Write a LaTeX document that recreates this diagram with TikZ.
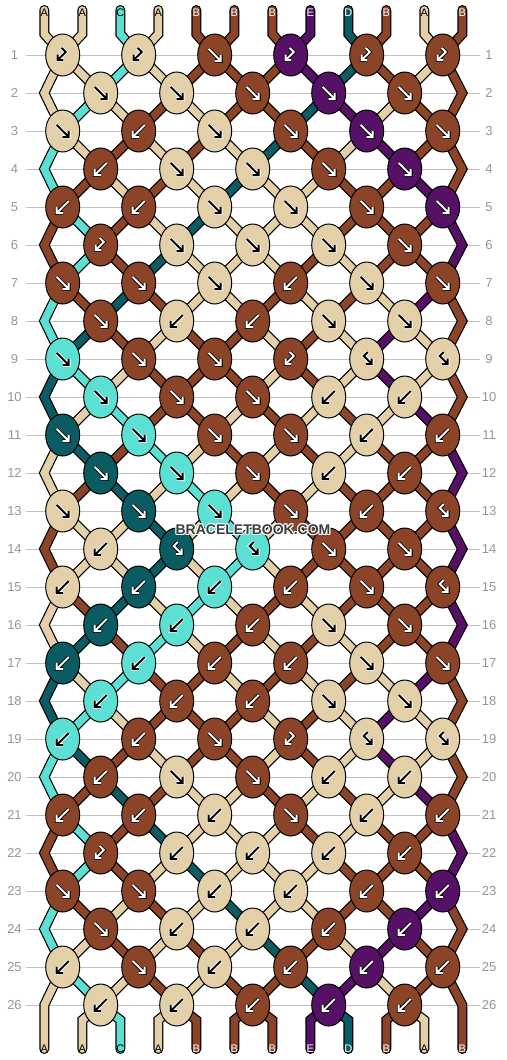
\documentclass[tikz,border=0pt]{standalone}
\usepackage{fontspec}
\setmainfont{Liberation Sans}
\usetikzlibrary{shapes.geometric}
\definecolor{colA}{RGB}{227,207,168}
\definecolor{colB}{RGB}{139,68,39}
\definecolor{colC}{RGB}{93,224,212}
\definecolor{colD}{RGB}{11,91,98}
\definecolor{colE}{RGB}{86,17,103}
\colorlet{fgA}{black}\colorlet{fgC}{black}
\colorlet{fgB}{white}\colorlet{fgD}{white}\colorlet{fgE}{white}
\colorlet{hlA}{white}\colorlet{hlC}{white}
\colorlet{hlB}{black}\colorlet{hlD}{black}\colorlet{hlE}{black}
\definecolor{rownum}{RGB}{150,150,150}
\definecolor{rowline}{RGB}{192,192,192}
\definecolor{wmark}{RGB}{60,60,60}

\def\stdef#1#2{\expandafter\def\csname st#1\endcsname{#2}}
\def\kndef#1#2{\expandafter\def\csname kn#1\endcsname{#2}}

\stdef{0}{A,A,C,A,B,B,B,E,D,B,A,B}
\stdef{1}{A,A,C,A,B,B,B,E,D,B,A,B}
\stdef{2}{A,C,A,B,A,B,B,D,E,A,B,B}
\stdef{3}{C,A,B,A,B,A,D,B,A,E,B,B}
\stdef{4}{C,B,A,B,A,D,A,A,B,B,E,B}
\stdef{5}{B,C,B,A,D,A,A,A,B,B,B,E}
\stdef{6}{B,C,B,D,A,A,A,B,A,B,B,E}
\stdef{7}{C,B,D,B,A,A,B,A,B,A,E,B}
\stdef{8}{C,D,B,A,B,B,A,B,A,E,A,B}
\stdef{9}{D,C,A,B,B,B,A,B,A,E,A,B}
\stdef{10}{D,A,C,B,B,A,B,A,B,A,E,B}
\stdef{11}{A,D,B,C,A,B,A,B,A,B,B,E}
\stdef{12}{A,B,D,A,C,A,B,A,B,B,B,E}
\stdef{13}{B,A,A,D,A,C,A,B,B,B,B,E}
\stdef{14}{B,A,A,D,A,C,A,B,B,B,B,E}
\stdef{15}{A,B,D,A,C,A,B,A,B,B,B,E}
\stdef{16}{A,D,B,C,A,B,A,B,A,B,B,E}
\stdef{17}{D,A,C,B,B,A,B,A,B,A,E,B}
\stdef{18}{D,C,A,B,B,B,A,B,A,E,A,B}
\stdef{19}{C,D,B,A,B,B,A,B,A,E,A,B}
\stdef{20}{C,B,D,B,A,A,B,A,B,A,E,B}
\stdef{21}{B,C,B,D,A,A,A,B,A,B,B,E}
\stdef{22}{B,C,B,A,D,A,A,A,B,B,B,E}
\stdef{23}{C,B,A,B,A,D,A,A,B,B,E,B}
\stdef{24}{C,A,B,A,B,A,D,B,A,E,B,B}
\stdef{25}{A,C,A,B,A,B,B,D,E,A,B,B}
\stdef{26}{A,A,C,A,B,B,B,E,D,B,A,B}

\kndef{1}{BF/A,BF/A,F/B,BF/E,BF/B,BF/B}
\kndef{2}{F/A,F/A,F/B,F/E,F/B}
\kndef{3}{F/A,B/B,F/A,F/B,F/E,F/B}
\kndef{4}{B/B,F/A,F/A,F/B,F/E}
\kndef{5}{B/B,B/B,F/A,F/A,F/B,F/E}
\kndef{6}{BF/B,F/A,F/A,F/A,F/B}
\kndef{7}{F/B,F/B,F/A,B/B,F/A,F/B}
\kndef{8}{F/B,B/A,B/B,F/A,F/A}
\kndef{9}{F/C,F/B,F/B,BF/B,FB/A,FB/A}
\kndef{10}{F/C,F/B,F/B,B/A,B/A}
\kndef{11}{F/D,F/C,F/B,F/B,B/A,B/B}
\kndef{12}{F/D,F/C,F/B,B/A,B/B}
\kndef{13}{F/A,F/D,F/C,F/B,B/B,FB/B}
\kndef{14}{B/A,FB/D,FB/C,F/B,F/B}
\kndef{15}{B/A,B/D,B/C,B/B,F/B,FB/B}
\kndef{16}{B/D,B/C,B/B,F/A,F/B}
\kndef{17}{B/D,B/C,B/B,B/B,F/A,F/B}
\kndef{18}{B/C,B/B,B/B,F/A,F/A}
\kndef{19}{B/C,B/B,F/B,BF/B,FB/A,FB/A}
\kndef{20}{B/B,F/A,F/B,B/A,B/A}
\kndef{21}{B/B,B/B,B/A,F/B,B/A,B/B}
\kndef{22}{BF/B,B/A,B/A,B/A,B/B}
\kndef{23}{F/B,F/B,B/A,B/A,B/B,B/E}
\kndef{24}{F/B,B/A,B/A,B/B,B/E}
\kndef{25}{B/A,F/B,B/A,B/B,B/E,B/B}
\kndef{26}{B/A,B/A,B/B,B/E,B/B}

\def\glF{(-6,-6)--(6,6) (6,-0.2)--(6,6)--(-0.2,6)}
\def\glB{(6,-6)--(-6,6) (-6,-0.2)--(-6,6)--(0.2,6)}
\def\glBF{(-1,-7)--(3,-3)--(-5,5) (-5,-0.5)--(-5,5)--(0.5,5)}
\def\glFB{(1,-7)--(-3,-3)--(5,5) (5,-0.5)--(5,5)--(-0.5,5)}

\tikzset{
  strand/.style={draw=black, line width=1.2pt, double distance=7.6pt, line join=miter},
  knot/.style={ellipse, draw=black, line width=1pt, minimum width=34pt, minimum height=42pt, inner sep=0pt},
  glyphhalo/.style={line width=3.6pt, line join=miter, line cap=butt},
  glyphline/.style={line width=2pt, line join=miter, line cap=butt},
  rownumber/.style={text=rownum, inner sep=0pt, font=\fontsize{13}{13}\selectfont},
  guide/.style={draw=rowline, line width=0.9pt},
  strandlabel/.style={inner sep=0pt, font=\fontsize{11}{11}\selectfont},
  wm/.style={inner sep=0pt, font=\fontsize{14}{14}\selectfont\bfseries}
}

\begin{document}
\begin{tikzpicture}[x=1pt,y=-1pt]
\useasboundingbox (0,0) rectangle (506,1060);
\fill[white] (0,0) rectangle (506,1060);

% row guides and numbers
\foreach \r in {1,...,26} {
  \pgfmathsetmacro\yy{55+38*(\r-1)}
  \node[rownumber] (rl-\r) at (14.5,\yy) {\r};
  \node[rownumber] (rr-\r) at (489,\yy) {\r};
  \coordinate (gl-\r) at (26,\yy);
  \coordinate (gr-\r) at (480,\yy);
  \draw[guide] (gl-\r) -- (gr-\r);
}

% coordinates
\foreach \i in {0,...,11} {
  \pgfmathsetmacro\xx{44.3+38*\i}
  \coordinate (top-\i) at (\xx,10);
  \coordinate (p-0-\i) at (\xx,34);
  \coordinate (p-27-\i) at (\xx,1020);
  \coordinate (bot-\i) at (\xx,1049);
}
\foreach \r in {1,...,26} {
  \pgfmathsetmacro\yy{55+38*(\r-1)}
  \pgfmathtruncatemacro\rodd{mod(\r,2)}
  \foreach \i in {0,...,11} {
    \ifnum\rodd=1
      \pgfmathtruncatemacro\kl{\i-mod(\i,2)}
      \pgfmathsetmacro\xx{62.7+38*\kl}
    \else
      \pgfmathsetmacro\xx{44.3+38*\i}
      \ifnum\i>0 \ifnum\i<11
        \pgfmathtruncatemacro\kl{\i-1+mod(\i,2)}
        \pgfmathsetmacro\xx{62.7+38*\kl}
      \fi\fi
    \fi
    \coordinate (p-\r-\i) at (\xx,\yy);
  }
}

% strands
\foreach \r in {0,...,26} {
  \pgfmathtruncatemacro\nxa{\r+1}
  \pgfmathtruncatemacro\nxb{\r+2}
  \pgfmathtruncatemacro\rodd{mod(\r,2)}
  \edef\lst{\csname st\r\endcsname}
  \foreach \scol [count=\i from 0] in \lst {
    \ifnum\r=0
      \draw[strand, line cap=round, double=col\scol] (top-\i) -- (p-0-\i) -- (p-1-\i);
    \else
      \def\isedge{0}%
      \ifnum\i=0 \def\isedge{1}\fi
      \ifnum\i=11 \def\isedge{1}\fi
      \ifnum\isedge=1
        \ifnum\rodd=1
          \ifnum\r=25
            \draw[strand, line cap=round, double=col\scol] (p-25-\i) -- (p-26-\i) -- (bot-\i);
          \else
            \draw[strand, double=col\scol] (p-\r-\i) -- (p-\nxa-\i) -- (p-\nxb-\i);
          \fi
        \fi
      \else
        \ifnum\r=26
          \draw[strand, line cap=round, double=col\scol] (p-26-\i) -- (p-27-\i) -- (bot-\i);
        \else
          \draw[strand, double=col\scol] (p-\r-\i) -- (p-\nxa-\i);
        \fi
      \fi
    \fi
  }
}

% knots
\foreach \r in {1,...,26} {
  \pgfmathtruncatemacro\rodd{mod(\r,2)}
  \edef\lst{\csname kn\r\endcsname}
  \foreach \ktyp/\kcol [count=\j from 0] in \lst {
    \pgfmathtruncatemacro\kl{2*\j+1-\rodd}
    \node[knot, fill=col\kcol] (k-\r-\kl) at (p-\r-\kl) {};
    \expandafter\let\expandafter\gpath\csname gl\ktyp\endcsname
    \begin{scope}[shift={(k-\r-\kl.center)}]
      \draw[glyphhalo, color=hl\kcol] \gpath;
      \draw[glyphline, color=fg\kcol] \gpath;
    \end{scope}
  }
}

% strand labels
\edef\lst{\csname st0\endcsname}
\foreach \scol [count=\i from 0] in \lst {
  \pgfmathsetmacro\xx{44.3+38*\i}
  \node[strandlabel, text=fg\scol] (lt-\i) at (\xx,13) {\scol};
}
\edef\lst{\csname st26\endcsname}
\foreach \scol [count=\i from 0] in \lst {
  \pgfmathsetmacro\xx{44.3+38*\i}
  \node[strandlabel, text=fg\scol] (lb-\i) at (\xx,1048.5) {\scol};
}

% watermark
\foreach \dx/\dy [count=\w] in {-1/0,1/0,0/-1,0/1,-0.8/-0.8,0.8/0.8,-0.8/0.8,0.8/-0.8} {
  \node[wm, text=white] (wmh-\w) at (253+\dx,529.5+\dy) {BRACELETBOOK.COM};
}
\node[wm, text=wmark] (wm) at (253,529.5) {BRACELETBOOK.COM};
\end{tikzpicture}
\end{document}
